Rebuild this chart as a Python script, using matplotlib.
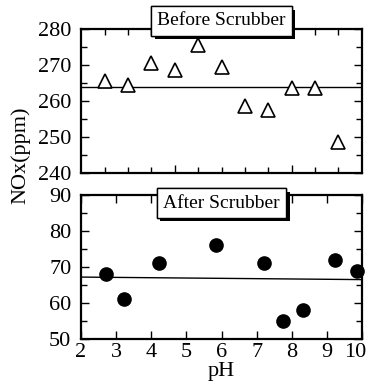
import matplotlib
matplotlib.use("Agg")
import matplotlib.pyplot as plt
import matplotlib.patheffects as pe
from matplotlib.ticker import MultipleLocator, FixedLocator, NullFormatter, FuncFormatter

plt.rcParams['font.family'] = ['Liberation Serif', 'DejaVu Serif']

# Before scrubber (triangles)
ph_before = [2.67, 3.33, 4.0, 4.67, 5.33, 6.0, 6.67, 7.33, 8.0, 8.67, 9.33]
nox_before = [265.5, 264.5, 270.5, 268.5, 275.5, 269.5, 258.5, 257.5, 263.5, 263.5, 248.5]
fit_before_x = [2, 10]
fit_before_y = [263.8, 263.8]

# After scrubber (circles)
ph_after = [2.72, 3.22, 4.22, 5.83, 7.22, 7.74, 8.33, 9.23, 9.86]
nox_after = [68, 61, 71, 76, 71, 55, 58, 72, 69]
fit_after_x = [2, 10]
fit_after_y = [67.2, 66.5]

top_minor_ticks = [2.67, 3.33, 4.0, 5.33, 6.0, 6.67, 7.33, 8.67, 9.33]
top_major_ticks = [4.67, 8.0]

fig = plt.figure(figsize=(3.68, 3.84), dpi=100)
ax1 = fig.add_axes([81/368, 1-173/384, 281/368, 144/384])
ax2 = fig.add_axes([81/368, 1-339/384, 281/368, 144/384])

fs = 16
for ax in (ax1, ax2):
    for s in ax.spines.values():
        s.set_linewidth(1.6)
    ax.tick_params(which='both', direction='in', top=True, right=True,
                   labelsize=fs, width=1.0)
    ax.tick_params(which='major', length=6)
    ax.tick_params(which='minor', length=4)
    ax.tick_params(axis='y', which='major', pad=7)
    ax.set_xlim(2, 10)

# top
ax1.plot(fit_before_x, fit_before_y, color='black', lw=1.0)
ax1.plot(ph_before, nox_before, linestyle='none', marker='^', ms=9.5,
         mfc='white', mec='black', mew=1.2, clip_on=False)
ax1.set_ylim(240, 280)
ax1.yaxis.set_major_locator(MultipleLocator(10))
ax1.yaxis.set_minor_locator(MultipleLocator(5))
ax1.xaxis.set_major_locator(FixedLocator(top_major_ticks))
ax1.xaxis.set_minor_locator(FixedLocator(top_minor_ticks))
ax1.xaxis.set_major_formatter(NullFormatter())

# bottom
ax2.plot(fit_after_x, fit_after_y, color='black', lw=1.0)
ax2.plot(ph_after, nox_after, linestyle='none', marker='o', ms=9.5,
         mfc='black', mec='black', clip_on=False)
ax2.set_ylim(50, 90)
ax2.yaxis.set_major_locator(MultipleLocator(10))
ax2.yaxis.set_minor_locator(MultipleLocator(5))
ax2.xaxis.set_major_locator(MultipleLocator(1))
ax2.tick_params(axis='x', which='major', pad=3)
ax2.xaxis.set_major_formatter(FuncFormatter(lambda v, p: '' if abs(v - 10) < 1e-6 else f'{v:g}'))
# last label "10" drawn slightly left so it stays inside the figure
ax2.annotate('10', xy=(10, 0), xycoords=('data', 'axes fraction'),
             xytext=(-5, -3), textcoords='offset points',
             ha='center', va='top', fontsize=fs, annotation_clip=False)
ax2.set_xlabel('pH', fontsize=fs, labelpad=0)

fig.text(21/368, 1-155/384, 'NOx(ppm)', rotation=90, fontsize=fs,
         ha='center', va='center')

for ax, txt, yy in ((ax1, 'Before Scrubber', 1.056), (ax2, 'After Scrubber', 0.944)):
    t = ax.text(0.5, yy, txt, transform=ax.transAxes, ha='center', va='center',
                fontsize=14, zorder=10,
                bbox=dict(boxstyle='square,pad=0.32', fc='white', ec='black', lw=1.0))
    t.get_bbox_patch().set_path_effects([
        pe.withSimplePatchShadow(offset=(2.5, -2.5), shadow_rgbFace='black', alpha=1.0),
        pe.Normal()])

fig.savefig('out.png', dpi=100)
